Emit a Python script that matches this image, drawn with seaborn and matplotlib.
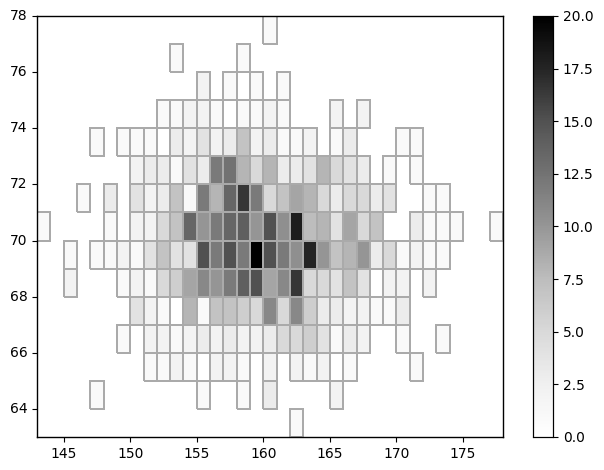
import numpy as np
import matplotlib
matplotlib.use("Agg")
import matplotlib.pyplot as plt
import seaborn as sns

x_edges = np.arange(143, 179)   # 35 bins of width 1
y_edges = np.arange(63, 79)     # 15 bins of width 1
x_ticks = [145, 150, 155, 160, 165, 170, 175]
y_ticks = [64, 66, 68, 70, 72, 74, 76, 78]

# counts per cell: {y bin lower edge: {column index: value}}
cells = {
    77: {17: 1},
    76: {10: 1, 15: 1},
    75: {12: 2, 14: 1, 15: 0, 16: 1, 18: 1},
    74: {9: 1, 10: 1, 11: 2, 12: 2, 13: 1, 14: 0, 15: 1, 16: 1, 17: 2, 18: 1, 22: 2, 24: 2},
    73: {4: 1, 6: 1, 7: 1, 8: 1, 9: 0, 10: 3, 11: 2, 12: 4, 13: 2, 14: 3, 15: 7, 16: 2,
         17: 3, 18: 1, 19: 1, 20: 2, 22: 1, 23: 3, 27: 1, 28: 1},
    72: {7: 2, 8: 3, 9: 3, 10: 1, 11: 4, 12: 3, 13: 12, 14: 12.5, 15: 8, 16: 5, 17: 8,
         18: 3, 19: 3, 20: 4, 21: 8, 22: 5, 23: 4, 24: 3, 26: 1, 28: 1},
    71: {3: 1, 5: 3, 7: 4, 8: 2, 9: 3, 10: 7, 11: 1, 12: 12, 13: 8, 14: 13.5, 15: 16.5,
         16: 12, 17: 5, 18: 7, 19: 9, 20: 8, 21: 5, 22: 3, 23: 5, 24: 5, 25: 3, 26: 4,
         29: 1, 30: 1},
    70: {0: 1, 5: 1, 7: 2, 8: 2, 9: 5, 10: 7, 11: 13.5, 12: 10, 13: 12, 14: 13.5, 15: 14,
         16: 10, 17: 15, 18: 10.5, 19: 18, 20: 7.5, 21: 8, 22: 4, 23: 9, 24: 5, 25: 7,
         28: 3, 29: 1, 30: 1, 31: 1, 34: 1},
    69: {2: 1, 4: 1, 5: 1, 6: 2, 7: 1, 8: 4, 9: 7, 10: 4, 11: 4, 12: 15, 13: 12, 14: 15,
         15: 12, 16: 20, 17: 15, 18: 12, 19: 10.5, 20: 17.5, 21: 10, 22: 7, 23: 8, 24: 10,
         25: 3, 26: 5, 27: 1, 28: 2, 29: 1, 30: 1},
    68: {2: 2, 6: 1, 7: 2, 8: 1, 9: 5, 10: 6, 11: 9, 12: 11, 13: 10, 14: 12, 15: 14,
         16: 15, 17: 9, 18: 11, 19: 16.5, 20: 5, 21: 5, 22: 4, 23: 7, 24: 4, 26: 2, 27: 2, 29: 2},
    67: {7: 4, 8: 2, 9: 1, 10: 0, 11: 8, 12: 1, 13: 7, 14: 7, 15: 6, 16: 5, 17: 11, 18: 5,
         19: 11, 20: 6, 21: 3, 22: 3, 23: 2, 24: 2, 25: 1, 26: 1, 27: 3},
    66: {6: 1, 8: 2, 9: 2, 10: 1, 11: 2, 12: 3, 13: 2, 14: 3, 15: 2, 16: 2, 17: 3, 18: 5,
         19: 5, 20: 6, 21: 4, 22: 1, 23: 3, 24: 2, 27: 1, 30: 1},
    65: {8: 1, 9: 1, 10: 2, 11: 1, 12: 0, 13: 2, 14: 2, 15: 1, 17: 2, 19: 2, 20: 1, 21: 2,
         22: 0, 23: 1, 28: 1},
    64: {4: 1, 12: 1, 15: 1, 17: 3, 22: 2},
    63: {19: 1},
}

z = np.full((len(y_edges) - 1, len(x_edges) - 1), np.nan)
for yb, row in cells.items():
    for c, v in row.items():
        z[yb - y_edges[0], c] = v

fig = plt.figure(figsize=(6.04, 4.70), dpi=100)
ax = fig.add_axes([37 / 604, 33 / 470, 466 / 604, 421 / 470])
cax = fig.add_axes([533 / 604, 33 / 470, 20 / 604, 421 / 470])

sns.heatmap(z, mask=np.isnan(z), cmap="Greys", vmin=0, vmax=20,
            linewidths=0.3, linecolor="#aaaaaa", ax=ax, cbar_ax=cax,
            cbar_kws={"ticks": np.arange(0, 20.1, 2.5), "format": "%.1f"})
# only outline the cells that hold a value
mesh = ax.collections[0]
empty = np.isnan(z).ravel()
edges = np.tile([0.667, 0.667, 0.667, 1.0], (empty.size, 1))
edges[empty, 3] = 0.0
mesh.set_edgecolor(edges)
mesh.set_linewidth(0.3)
mesh.set_antialiased(False)

ax.invert_yaxis()
for s in ax.spines.values():
    s.set_visible(True)
    s.set_linewidth(1.0)
ax.set_xticks([t - x_edges[0] for t in x_ticks])
ax.set_xticklabels([str(t) for t in x_ticks], rotation=0)
ax.set_yticks([t - y_edges[0] for t in y_ticks])
ax.set_yticklabels([str(t) for t in y_ticks], rotation=0)
ax.tick_params(length=3.5, width=0.8, labelsize=10)
cax.tick_params(length=3.5, width=0.8, labelsize=10)
for s in cax.spines.values():
    s.set_visible(True)
    s.set_linewidth(0.8)

fig.savefig("out.png", dpi=100)
